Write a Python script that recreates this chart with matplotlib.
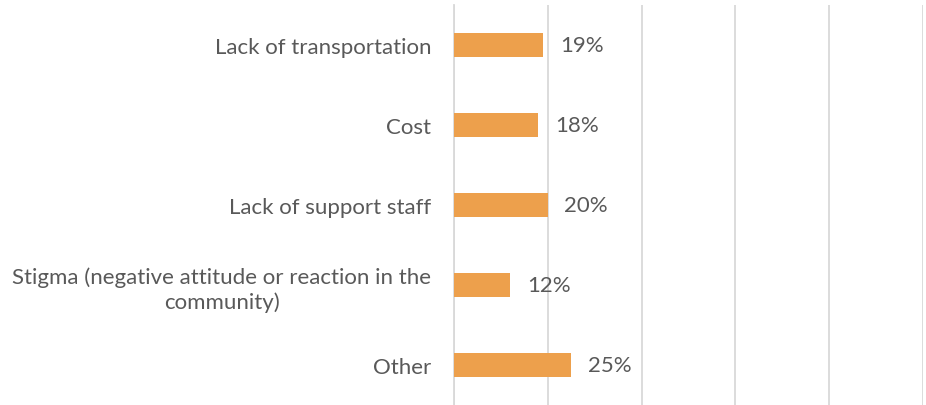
import matplotlib.pyplot as plt

# Barriers and share of respondents (%)
categories = [
    "Lack of transportation",
    "Cost",
    "Lack of support staff",
    "Stigma (negative attitude or reaction in the\ncommunity)",
    "Other",
]
shares = [19, 18, 20, 12, 25]

bar_color = "#EDA04C"
text_color = "#595959"
grid_color = "#D9D9D9"

plt.rcParams["font.family"] = ["Lato", "DejaVu Sans"]

fig = plt.figure(figsize=(9.26, 4.06), dpi=100)
ax = fig.add_axes([454 / 926, 0.0, (923 - 454) / 926, 400 / 406])

ypos = list(range(len(categories)))
ax.barh(ypos, shares, height=0.31, color=bar_color, zorder=3)
ax.set_ylim(len(categories) - 0.5, -0.5)
ax.set_xlim(0, 100)
ax.set_xticks(range(0, 101, 20))
ax.xaxis.grid(True, color=grid_color, linewidth=1.3, zorder=0)
ax.tick_params(axis="x", length=0, labelbottom=False)
ax.tick_params(axis="y", length=0, pad=16.5)
ax.set_yticks(ypos)
ax.set_yticklabels(categories, fontsize=16, color=text_color,
                   multialignment="center", linespacing=1.25)
for side in ["top", "right", "bottom"]:
    ax.spines[side].set_visible(False)
ax.spines["left"].set_color(grid_color)
ax.spines["left"].set_linewidth(1.3)

for y, v in zip(ypos, shares):
    ax.annotate(f"{v}%", (v, y), xytext=(12, 0), textcoords="offset points",
                ha="left", va="center", fontsize=16, color=text_color)

fig.savefig("out.png", dpi=100)
